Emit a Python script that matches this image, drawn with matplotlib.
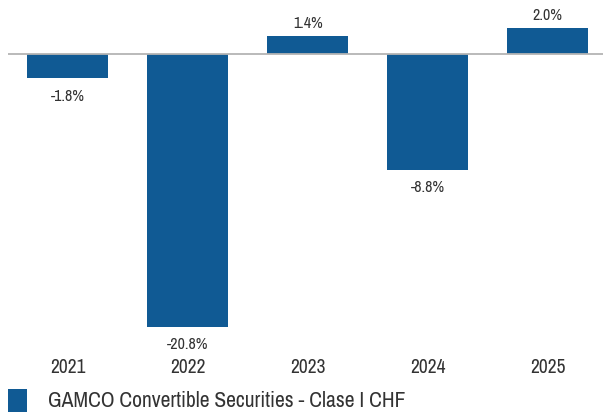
import matplotlib
matplotlib.use("Agg")
import matplotlib.pyplot as plt
from matplotlib.patches import Rectangle

years = ["2021", "2022", "2023", "2024", "2025"]
returns = [-1.8, -20.8, 1.4, -8.8, 2.0]
series_name = "GAMCO Convertible Securities - Clase I CHF"

bar_color = "#105a94"
text_color = "#333333"

plt.rcParams["font.family"] = ["Archivo Narrow", "DejaVu Sans"]

fig = plt.figure(figsize=(6.03, 4.12), dpi=100)
ax = fig.add_axes([8 / 603, 1 - 336 / 412, 595 / 603, (336 - 8.6) / 412])

x = range(len(years))
ax.bar(x, returns, width=0.675, color=bar_color, zorder=2)
ax.axhline(0, color="#b4b4b4", linewidth=1.3, zorder=3)

# value labels: below negative bars, above positive ones
for xi, v in zip(x, returns):
    dy = -13 if v < 0 else 9
    ax.annotate(f"{v:.1f}%", (xi, v), xytext=(0, dy), textcoords="offset points",
                ha="center", va="center", fontsize=11.5, color=text_color)

ax.set_xlim(-0.5, 4.46)
ax.set_ylim(-21.5, 3.5)
ax.set_xticks(list(x))
ax.set_xticklabels(years, fontsize=14, color=text_color)
ax.tick_params(axis="x", length=0, pad=16)
ax.set_yticks([])
for s in ax.spines.values():
    s.set_visible(False)

# legend: square swatch plus series name
fig.patches.append(Rectangle((8 / 603, 0), 19 / 603, 23 / 412, transform=fig.transFigure,
                             facecolor=bar_color, edgecolor="none"))
fig.text(48 / 603, 1 - 401 / 412, series_name, fontsize=15.5, color=text_color,
         ha="left", va="center")

fig.savefig("out.png", dpi=100)
